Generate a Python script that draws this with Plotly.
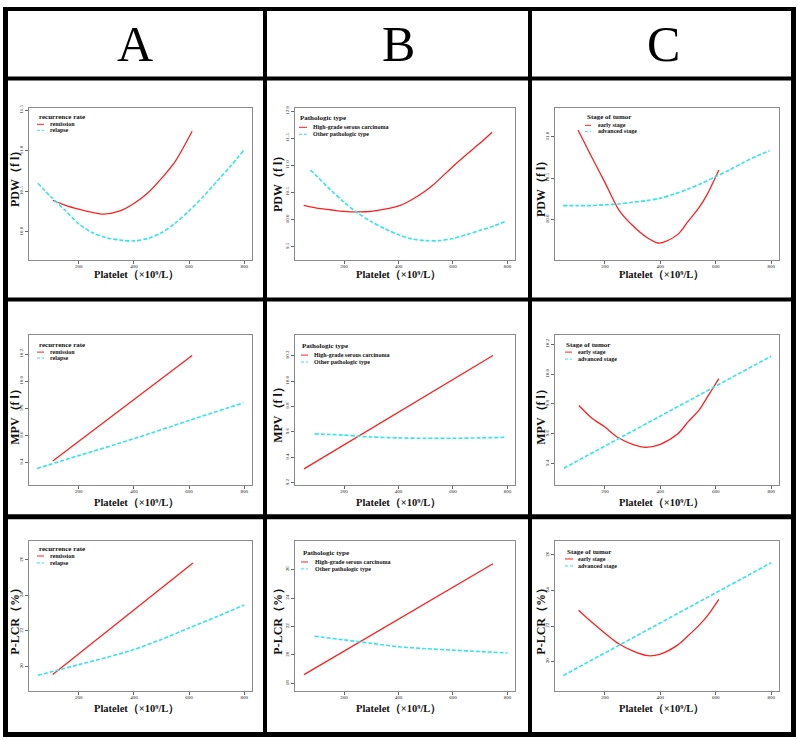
import plotly.graph_objects as go

W, H = 798, 740

# ---------------- data ----------------
x_tick_vals = [200, 400, 600, 800]
column_letters = ["A", "B", "C"]
group_titles = ["recurrence rate", "Pathologic type", "Stage of tumor"]
group_labels = [["remission", "relapse"],
                ["High-grade serous carcinoma", "Other pathologic type"],
                ["early stage", "advanced stage"]]
y_titles = ["PDW（f l）", "MPV（f l）", "P-LCR（%）"]
x_title = "Platelet（×10⁹/L）"

# Row 1: PDW
pdw_a_remission_x = [106, 150, 200, 250, 290, 350, 400, 450, 500, 550, 611]
pdw_a_remission_y = [10.39, 10.33, 10.28, 10.24, 10.22, 10.26, 10.35, 10.48, 10.66, 10.87, 11.24]
pdw_a_relapse_x = [52, 100, 150, 200, 250, 300, 350, 400, 450, 500, 550, 600, 650, 700, 750, 797]
pdw_a_relapse_y = [10.60, 10.43, 10.27, 10.10, 9.99, 9.93, 9.90, 9.89, 9.92, 9.99, 10.11, 10.26, 10.43, 10.62, 10.81, 11.00]

pdw_b_hgsc_x = [52, 100, 150, 200, 261, 300, 350, 407, 450, 500, 530, 600, 650, 700, 744]
pdw_b_hgsc_y = [10.26, 10.21, 10.18, 10.15, 10.14, 10.15, 10.19, 10.26, 10.37, 10.53, 10.65, 10.98, 11.20, 11.41, 11.61]
pdw_b_other_x = [77, 100, 150, 200, 250, 300, 350, 400, 450, 500, 550, 600, 650, 700, 750, 790]
pdw_b_other_y = [10.91, 10.80, 10.55, 10.32, 10.12, 9.96, 9.83, 9.72, 9.64, 9.61, 9.61, 9.65, 9.72, 9.80, 9.88, 9.96]

pdw_c_early_x = [103, 150, 200, 250, 300, 350, 393, 420, 465, 500, 540, 568, 611]
pdw_c_early_y = [11.08, 10.77, 10.45, 10.12, 9.93, 9.79, 9.72, 9.74, 9.83, 9.98, 10.15, 10.30, 10.60]
pdw_c_advanced_x = [49, 100, 150, 200, 250, 300, 350, 400, 450, 500, 550, 600, 650, 700, 750, 794]
pdw_c_advanced_y = [10.17, 10.17, 10.17, 10.18, 10.19, 10.21, 10.23, 10.26, 10.31, 10.37, 10.44, 10.52, 10.60, 10.69, 10.77, 10.83]

# Row 2: MPV
mpv_a_remission_x = [106, 611]
mpv_a_remission_y = [9.41, 10.19]
mpv_a_relapse_x = [49, 200, 400, 600, 797]
mpv_a_relapse_y = [9.355, 9.45, 9.575, 9.71, 9.84]

mpv_b_hgsc_x = [53, 747]
mpv_b_hgsc_y = [9.31, 10.20]
mpv_b_other_x = [92, 150, 200, 250, 300, 400, 500, 600, 700, 796]
mpv_b_other_y = [9.585, 9.58, 9.575, 9.567, 9.56, 9.553, 9.55, 9.55, 9.553, 9.558]

mpv_c_early_x = [106, 150, 200, 247, 300, 348, 400, 463, 500, 540, 571, 611]
mpv_c_early_y = [9.79, 9.71, 9.645, 9.575, 9.53, 9.51, 9.53, 9.60, 9.68, 9.76, 9.85, 9.97]
mpv_c_advanced_x = [52, 800]
mpv_c_advanced_y = [9.37, 10.12]

# Row 3: P-LCR
plcr_a_remission_x = [106, 614]
plcr_a_remission_y = [19.55, 25.83]
plcr_a_relapse_x = [52, 200, 300, 400, 500, 600, 700, 800]
plcr_a_relapse_y = [19.50, 20.10, 20.50, 20.95, 21.52, 22.17, 22.80, 23.46]

plcr_b_hgsc_x = [53, 747]
plcr_b_hgsc_y = [18.62, 26.41]
plcr_b_other_x = [92, 200, 300, 400, 500, 600, 700, 800]
plcr_b_other_y = [21.31, 21.06, 20.82, 20.58, 20.44, 20.34, 20.24, 20.14]

plcr_c_early_x = [105, 150, 200, 250, 300, 355, 400, 463, 500, 540, 571, 611]
plcr_c_early_y = [22.89, 22.25, 21.60, 21.00, 20.60, 20.33, 20.42, 20.94, 21.45, 22.05, 22.60, 23.50]
plcr_c_advanced_x = [50, 800]
plcr_c_advanced_y = [19.22, 25.56]

# y ticks per panel (row, col)
y_ticks = [
    [[10.0, 10.5, 11.0, 11.5], [9.5, 10.0, 10.5, 11.0, 11.5, 12.0], [10.0, 10.5, 11.0]],
    [[9.4, 9.6, 9.8, 10.0, 10.2], [9.2, 9.4, 9.6, 9.8, 10.0, 10.2], [9.4, 9.6, 9.8, 10.0, 10.2]],
    [[20, 22, 24, 26], [18, 20, 22, 24, 26], [20, 22, 24, 26]],
]

series = [
    [((pdw_a_remission_x, pdw_a_remission_y), (pdw_a_relapse_x, pdw_a_relapse_y)),
     ((pdw_b_hgsc_x, pdw_b_hgsc_y), (pdw_b_other_x, pdw_b_other_y)),
     ((pdw_c_early_x, pdw_c_early_y), (pdw_c_advanced_x, pdw_c_advanced_y))],
    [((mpv_a_remission_x, mpv_a_remission_y), (mpv_a_relapse_x, mpv_a_relapse_y)),
     ((mpv_b_hgsc_x, mpv_b_hgsc_y), (mpv_b_other_x, mpv_b_other_y)),
     ((mpv_c_early_x, mpv_c_early_y), (mpv_c_advanced_x, mpv_c_advanced_y))],
    [((plcr_a_remission_x, plcr_a_remission_y), (plcr_a_relapse_x, plcr_a_relapse_y)),
     ((plcr_b_hgsc_x, plcr_b_hgsc_y), (plcr_b_other_x, plcr_b_other_y)),
     ((plcr_c_early_x, plcr_c_early_y), (plcr_c_advanced_x, plcr_c_advanced_y))],
]

# ---------------- layout geometry (pixels) ----------------
col_box_x = [(29, 252), (295, 515), (555, 779)]
row_box_y = [(105, 257), (333, 484), (540, 691)]
x_range = [20, 828]
y_ranges = [
    [[9.66, 11.52], [9.26, 12.05], [9.52, 11.34]],
    [[9.23, 10.34], [9.18, 10.36], [9.255, 10.26]],
    [[18.6, 27.06], [17.45, 28.0], [18.33, 26.78]],
]
# legend: title x, title y, sample x0, x1, text x, item1 y, item2 y
legend_pos = [
    [(37, 114, 37, 44, 48, 121, 127), (298, 115, 299, 307, 311, 124, 131), (585, 114, 585, 591, 596, 122, 128)],
    [(37, 343, 37, 44, 48, 350, 356), (300, 344, 301, 308, 312, 353, 360), (564, 343, 565, 572, 576, 350, 357)],
    [(37, 548, 37, 44, 48, 555, 562), (301, 552, 301, 308, 313, 561, 568), (565, 551, 565, 573, 576, 558, 565)],
]
x_title_pos = [[(136, 272), (398, 272), (661, 272)],
               [(136, 502), (398, 502), (661, 502)],
               [(136, 709), (398, 709), (661, 709)]]
y_title_pos = [[(15, 173), (278, 178), (541, 183)],
               [(15, 412), (278, 410), (541, 412)],
               [(15, 618), (278, 618), (541, 618)]]
header_pos = [(135, 40), (398, 40), (663, 40)]
black_bars = [  # x0, y0, x1, y1
    (3, 3, 796, 7), (3, 732, 796, 737), (3, 3, 8, 737), (791, 3, 796, 737),
    (3, 73, 796, 77), (3, 295, 796, 299), (3, 513, 796, 518),
    (263, 3, 267, 737), (528, 3, 532, 737),
]

RED = "#ff2020"
CYAN = "#33e4ea"
SERIF = "Liberation Serif, Times New Roman, serif"


def px(x):
    return x / W


def py(y):
    return 1 - y / H


fig = go.Figure()
annotations = []
shapes = []

for r in range(3):
    for c in range(3):
        idx = r * 3 + c + 1
        xa = "x" if idx == 1 else f"x{idx}"
        ya = "y" if idx == 1 else f"y{idx}"
        (rx, ry), (cx_, cy_) = series[r][c]
        multi_red = len(rx) > 2
        multi_cy = len(cx_) > 2
        fig.add_trace(go.Scatter(
            x=rx, y=ry, mode="lines", xaxis=xa, yaxis=ya, showlegend=False,
            line=dict(color=RED, width=1.3, shape="spline" if multi_red else "linear", smoothing=0.8),
            name=group_labels[c][0]))
        fig.add_trace(go.Scatter(
            x=cx_, y=cy_, mode="lines", xaxis=xa, yaxis=ya, showlegend=False,
            line=dict(color=CYAN, width=1.6, dash="4px,2px",
                      shape="spline" if multi_cy else "linear", smoothing=0.8),
            name=group_labels[c][1]))

        x0, x1 = col_box_x[c]
        y0, y1 = row_box_y[r]
        axis_common = dict(
            showline=True, linecolor="#8a8a8a", linewidth=1, mirror=True,
            ticks="outside", ticklen=3, tickwidth=1, tickcolor="#666",
            tickfont=dict(family=SERIF, size=5, color="#222"),
            showgrid=False, zeroline=False, fixedrange=True,
        )
        fig.layout[f"xaxis{'' if idx == 1 else idx}"] = dict(
            domain=[px(x0), px(x1)], anchor=ya, range=x_range,
            tickvals=x_tick_vals, ticklabelstandoff=-2, **axis_common)
        fmt = "d" if r == 2 else ".1f"
        fig.layout[f"yaxis{'' if idx == 1 else idx}"] = dict(
            domain=[py(y1), py(y0)], anchor=xa, range=y_ranges[r][c],
            tickvals=y_ticks[r][c], tickformat=fmt, tickangle=-90, **axis_common)

        # legend
        tx, ty, sx0, sx1, ttx, iy1, iy2 = legend_pos[r][c]
        annotations.append(dict(
            x=px(tx), y=py(ty), xref="paper", yref="paper", xanchor="left", yanchor="middle",
            text=f"<b>{group_titles[c]}</b>", showarrow=False,
            font=dict(family=SERIF, size=7, color="#111")))
        for iy, lab, col, dash in ((iy1, group_labels[c][0], RED, "solid"),
                                   (iy2, group_labels[c][1], CYAN, "3px,2px")):
            shapes.append(dict(type="line", xref="paper", yref="paper",
                               x0=px(sx0), x1=px(sx1), y0=py(iy), y1=py(iy),
                               line=dict(color=col, width=1, dash=dash)))
            annotations.append(dict(
                x=px(ttx), y=py(iy), xref="paper", yref="paper", xanchor="left", yanchor="middle",
                text=f"<b>{lab}</b>", showarrow=False,
                font=dict(family=SERIF, size=6, color="#111")))

        # axis titles
        xt, yt = x_title_pos[r][c]
        annotations.append(dict(
            x=px(xt), y=py(yt), xref="paper", yref="paper", xanchor="center", yanchor="middle",
            text=f"<b>{x_title}</b>", showarrow=False,
            font=dict(family=SERIF, size=10.5, color="#111")))
        xt, yt = y_title_pos[r][c]
        annotations.append(dict(
            x=px(xt), y=py(yt), xref="paper", yref="paper", xanchor="center", yanchor="middle",
            text=f"<b>{y_titles[r]}</b>", showarrow=False, textangle=-90,
            font=dict(family=SERIF, size=12, color="#111")))

for letter, (hx, hy) in zip(column_letters, header_pos):
    annotations.append(dict(
        x=px(hx), y=py(hy), xref="paper", yref="paper", xanchor="center", yanchor="middle",
        text=letter, showarrow=False, font=dict(family=SERIF, size=50, color="black")))

for (bx0, by0, bx1, by1) in black_bars:
    shapes.append(dict(type="rect", xref="paper", yref="paper",
                       x0=px(bx0), x1=px(bx1), y0=py(by1), y1=py(by0),
                       fillcolor="black", line=dict(width=0), layer="above"))

fig.update_layout(
    width=W, height=H, margin=dict(l=0, r=0, t=0, b=0),
    paper_bgcolor="white", plot_bgcolor="white",
    annotations=annotations, shapes=shapes, showlegend=False,
)

fig.write_html("out.html")
